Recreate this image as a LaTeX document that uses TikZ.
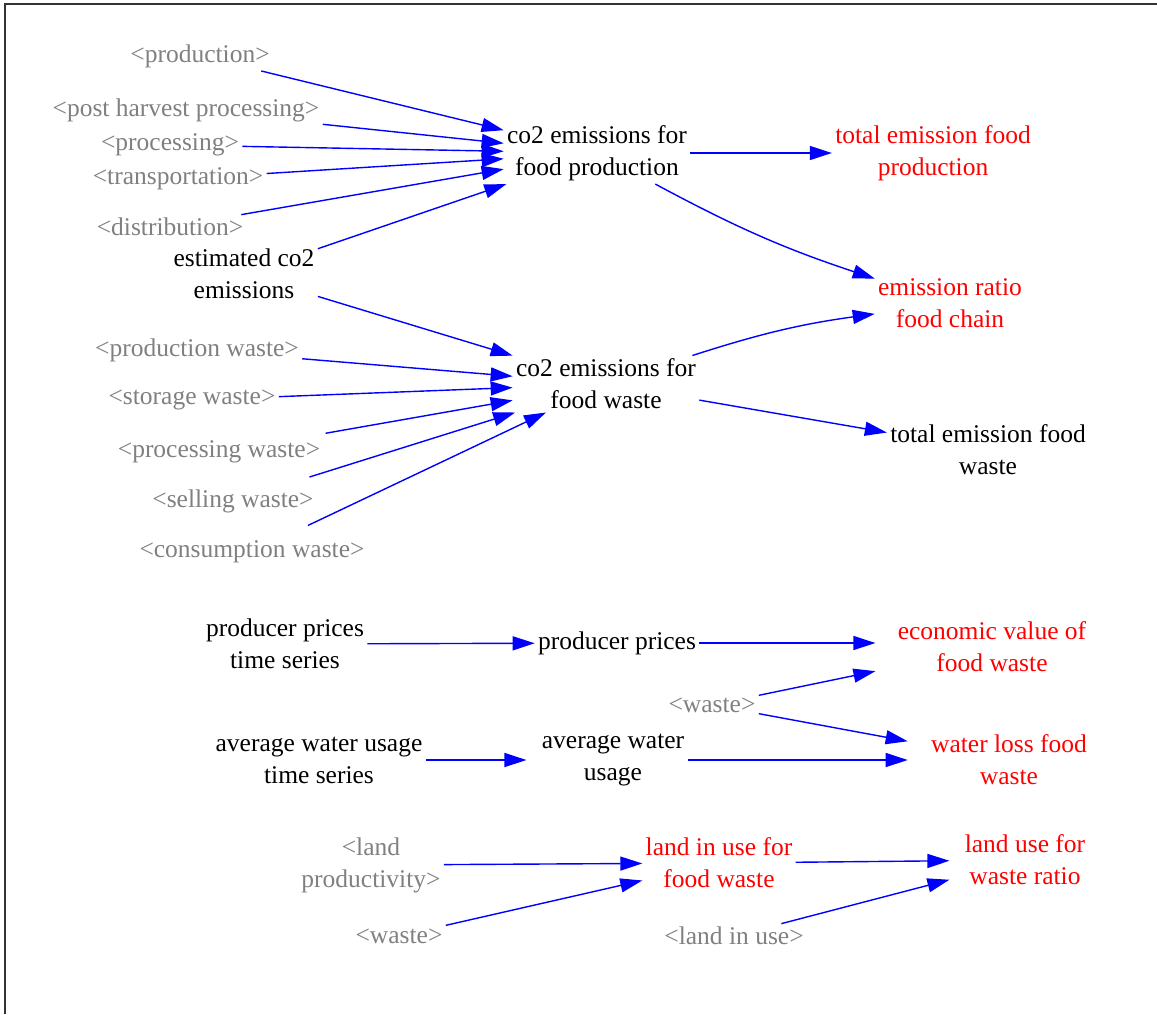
\documentclass[tikz,border=0pt]{standalone}
\usepackage{fontspec}
\setmainfont{LiberationSerif}[Extension=.ttf,UprightFont=*-Regular,BoldFont=*-Bold,ItalicFont=*-Italic,BoldItalicFont=*-BoldItalic]
\usetikzlibrary{arrows.meta}
\tikzset{
	var/.style={inner sep=1.5pt,align=center,font=\fontsize{12.75pt}{16pt}\selectfont},
	ghost/.style={var,text=gray},
	result/.style={var,text=red},
	link/.style={draw=blue,line width=0.7pt,-{Triangle[length=11pt,width=7pt]}}
}

\begin{document}
\begin{tikzpicture}[x=0.5pt,y=-0.5pt]

\useasboundingbox (0,0) rectangle (1157,1014);
\draw[line width=0.8pt,black!80] (5,1014) -- (5,4) -- (1157,4);

\node[ghost] (prod) at (200,56) {<production>};
\node[ghost] (phproc) at (186,110) {<post harvest processing>};
\node[ghost] (proc) at (170,145) {<processing>};
\node[ghost] (transp) at (178,179) {<transportation>};
\node[ghost] (distr) at (170,227) {<distribution>};
\node[var] (estco) at (244,274) {estimated co2\\emissions};
\node[var] (cofood) at (597,153) {co2 emissions for\\food production};
\node[result] (totfood) at (933,153) {total emission food\\production};
\node[result] (ratio) at (950,303) {emission ratio\\food chain};
\node[var] (cowaste) at (606,384) {co2 emissions for\\food waste};
\node[var] (totwaste) at (988,450) {total emission food\\waste};

\node[ghost] (prodw) at (197,350) {<production waste>};
\node[ghost] (storw) at (192,400) {<storage waste>};
\node[ghost] (procw) at (219,452) {<processing waste>};
\node[ghost] (sellw) at (233,501) {<selling waste>};
\node[ghost] (consw) at (252,552) {<consumption waste>};

\node[var] (ppts) at (285,644) {producer prices\\time series};
\node[var] (pp) at (617,643) {producer prices};
\node[result,inner xsep=11pt] (econ) at (992,647) {economic value of\\food waste};
\node[ghost] (wastea) at (712,705) {<waste>};
\node[var] (awts) at (319,760) {average water usage\\time series};
\node[var] (aw) at (613,760) {average water\\usage};
\node[result,inner xsep=11.5pt] (wloss) at (1009,760) {water loss food\\waste};

\node[ghost] (landprod) at (371,865) {<land\\productivity>};
\node[ghost] (wasteb) at (399,936) {<waste>};
\node[result] (landfw) at (719,863) {land in use for\\food waste};
\node[result,inner xsep=7.5pt] (landratio) at (1025,860) {land use for\\waste ratio};
\node[ghost] (landuse) at (734,936) {<land in use>};

\draw[link] (prod) -- (cofood);
\draw[link] (phproc) -- (cofood);
\draw[link] (proc) -- (cofood);
\draw[link] (transp) -- (cofood);
\draw[link] (distr) -- (cofood);
\draw[link] (estco) -- (cofood);
\draw[link] (cofood) -- (totfood);
\draw[link] (cofood) to[bend right=5] (ratio);
\draw[link] (estco) -- (cowaste);
\draw[link] (prodw) -- (cowaste);
\draw[link] (storw) -- (cowaste);
\draw[link,shorten <=12pt] (procw) -- (cowaste);
\draw[link,shorten <=15pt] (sellw) -- (cowaste);
\draw[link,shorten <=14pt] (consw) -- (cowaste);
\draw[link] (cowaste) to[bend left=5] (ratio);
\draw[link] (cowaste) -- (totwaste);

\draw[link] (ppts) -- (pp);
\draw[link] (pp) -- (pp -| econ.west);
\draw[link] (wastea) -- (econ);
\draw[link] (wastea) -- (wloss);
\draw[link,shorten >=6pt] (awts) -- (aw);
\draw[link] (aw) -- (wloss);

\draw[link] (landprod) -- (landfw);
\draw[link] (wasteb) -- (landfw);
\draw[link] (landfw) -- (landratio);
\draw[link] (landuse) -- (landratio);

\end{tikzpicture}
\end{document}
